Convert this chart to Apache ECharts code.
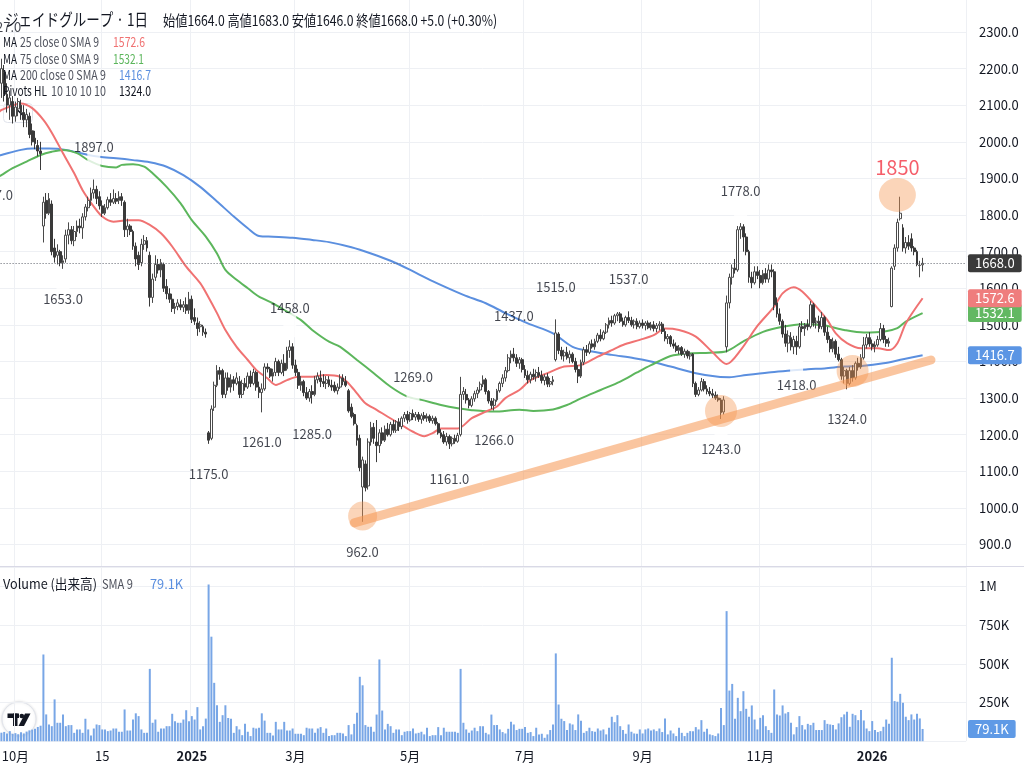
<!DOCTYPE html>
<html>
<head>
<meta charset="utf-8">
<title>ジェイドグループ 日足</title>
<script src="https://cdn.jsdelivr.net/npm/echarts@6/dist/echarts.min.js"></script>
<style>
  html, body { margin: 0; padding: 0; background: #ffffff; }
  #chart { width: 1024px; height: 780px; }
</style>
</head>
<body>
<div id="chart"></div>
<script>
const FONT = '"Noto Sans CJK JP", "Noto Sans", sans-serif';
const INK = '#131722';
const MUTED = '#50535e';

// Tokyo exchange closures inside the charted span
const HOLIDAYS = [
  '2024-09-23', '2024-10-14', '2024-11-04', '2024-12-31',
  '2025-01-01', '2025-01-02', '2025-01-03', '2025-01-13', '2025-02-11', '2025-02-24',
  '2025-03-20', '2025-04-29', '2025-05-05', '2025-05-06', '2025-07-21', '2025-08-11',
  '2025-09-15', '2025-09-23', '2025-10-13', '2025-11-03', '2025-11-24', '2025-12-31',
  '2026-01-01', '2026-01-02', '2026-01-12', '2026-02-11', '2026-02-23'
];
const FIRST_SESSION = '2024-09-18';
const PRE_SESSIONS = 3;     // sessions left of the first candle (off the edge)
const AHEAD_SESSIONS = 15;  // empty sessions right of the last candle

// Daily candles from 2024-09-24: [open, high, low, close]
const CANDLES = [
  [2160,2227,2120,2200],[2190,2210,2110,2130],[2130,2160,2080,2100],[2100,2140,2060,2120],[2110,2125,2050,2070],
  [2070,2110,2055,2095],[2090,2120,2070,2110],[2100,2115,2060,2080],[2080,2100,2040,2060],[2060,2090,2040,2075],
  [2070,2080,2010,2020],[2030,2050,1990,2000],[2010,2030,1980,1995],[1990,2005,1960,1975],[1975,2000,1923,1968],
  [1770,1850,1725,1835],[1840,1860,1790,1805],[1805,1860,1800,1845],[1830,1840,1690,1700],[1710,1735,1670,1685],
  [1690,1720,1665,1700],[1700,1705,1660,1670],[1670,1690,1653,1675],[1680,1760,1670,1745],[1745,1780,1720,1760],
  [1760,1770,1720,1730],[1730,1770,1715,1755],[1755,1785,1740,1770],[1770,1790,1750,1765],[1765,1805,1735,1795],
  [1795,1830,1785,1822],[1820,1850,1810,1840],[1840,1875,1825,1860],[1860,1897,1845,1870],[1870,1880,1830,1845],
  [1850,1865,1815,1825],[1825,1840,1795,1805],[1805,1830,1800,1820],[1820,1850,1815,1842],[1842,1860,1825,1835],
  [1835,1870,1830,1845],[1845,1860,1830,1838],[1840,1865,1830,1850],[1850,1860,1825,1840],[1835,1840,1740,1760],
  [1760,1790,1740,1770],[1770,1775,1745,1755],[1755,1760,1705,1715],[1715,1725,1660,1680],[1690,1700,1650,1665],
  [1670,1735,1660,1720],[1720,1745,1705,1730],[1730,1740,1700,1710],[1690,1700,1550,1575],[1575,1640,1560,1625],
  [1630,1690,1620,1665],[1665,1680,1640,1650],[1650,1680,1630,1670],[1665,1670,1590,1600],[1605,1625,1570,1585],
  [1585,1600,1560,1570],[1570,1585,1535,1545],[1545,1560,1530,1550],[1550,1570,1540,1560],[1555,1570,1540,1548],
  [1548,1565,1535,1555],[1555,1575,1530,1540],[1540,1590,1530,1570],[1570,1580,1505,1515],[1520,1545,1500,1510],
  [1505,1520,1470,1490],[1495,1510,1480,1500],[1495,1500,1470,1480],[1480,1490,1465,1475],[1205,1210,1175,1185],
  [1190,1280,1185,1270],[1275,1345,1265,1335],[1335,1390,1330,1375],[1375,1385,1350,1365],[1375,1380,1300,1310],
  [1310,1370,1300,1355],[1355,1370,1320,1330],[1330,1365,1315,1350],[1350,1360,1320,1340],[1340,1370,1335,1355],
  [1345,1360,1300,1310],[1310,1350,1300,1340],[1340,1355,1320,1330],[1330,1370,1325,1360],[1360,1375,1330,1340],
  [1340,1380,1335,1370],[1370,1375,1320,1330],[1330,1345,1300,1315],[1315,1340,1261,1325],[1325,1395,1320,1385],
  [1385,1395,1370,1380],[1380,1385,1355,1360],[1360,1380,1345,1370],[1370,1410,1360,1400],[1400,1405,1360,1370],
  [1370,1405,1365,1395],[1395,1420,1360,1375],[1380,1440,1375,1430],[1430,1458,1410,1440],[1440,1450,1380,1390],
  [1390,1405,1360,1370],[1370,1380,1325,1335],[1335,1360,1320,1345],[1345,1350,1305,1315],[1315,1330,1295,1300],
  [1300,1325,1290,1318],[1318,1335,1285,1310],[1310,1360,1305,1350],[1350,1370,1340,1360],[1355,1375,1330,1345],
  [1345,1365,1330,1340],[1340,1360,1325,1350],[1350,1360,1330,1335],[1335,1350,1320,1330],[1335,1345,1315,1320],
  [1320,1340,1310,1330],[1330,1365,1325,1355],[1355,1365,1335,1345],[1345,1360,1330,1335],[1320,1325,1260,1265],
  [1275,1285,1245,1250],[1255,1260,1225,1230],[1225,1230,1170,1185],[1190,1200,1100,1110],[1057,1140,962,1131],
  [1120,1130,1045,1055],[1060,1190,1050,1180],[1180,1235,1170,1220],[1220,1232,1175,1190],[1180,1240,1125,1170],
  [1170,1215,1150,1205],[1205,1220,1175,1185],[1185,1225,1180,1215],[1215,1232,1195,1200],[1200,1235,1195,1228],
  [1228,1240,1205,1212],[1212,1240,1205,1235],[1235,1245,1210,1222],[1222,1250,1215,1245],[1245,1262,1235,1255],
  [1255,1265,1230,1240],[1240,1262,1235,1258],[1258,1269,1240,1248],[1248,1262,1238,1255],[1255,1262,1235,1242],
  [1242,1258,1230,1252],[1252,1262,1238,1245],[1245,1258,1235,1250],[1250,1255,1232,1238],[1238,1252,1230,1245],
  [1245,1250,1225,1230],[1230,1235,1200,1205],[1205,1215,1190,1195],[1200,1210,1175,1180],[1180,1205,1170,1195],
  [1195,1200,1161,1175],[1175,1195,1168,1190],[1190,1200,1175,1182],[1182,1205,1178,1198],[1200,1358,1195,1310],
  [1310,1330,1295,1318],[1310,1325,1285,1295],[1295,1300,1272,1280],[1280,1305,1275,1298],[1298,1320,1290,1312],
  [1312,1330,1300,1322],[1322,1345,1315,1338],[1338,1362,1330,1350],[1350,1355,1310,1318],[1318,1322,1285,1292],
  [1292,1300,1270,1280],[1280,1300,1266,1295],[1295,1325,1290,1320],[1320,1345,1315,1340],[1340,1365,1330,1355],
  [1355,1385,1345,1375],[1375,1420,1370,1410],[1410,1430,1395,1420],[1420,1437,1400,1410],[1410,1420,1385,1395],
  [1395,1412,1380,1405],[1405,1410,1370,1378],[1378,1390,1355,1362],[1362,1375,1340,1350],[1350,1372,1340,1365],
  [1365,1380,1350,1358],[1358,1378,1345,1370],[1370,1385,1355,1362],[1362,1375,1340,1348],[1348,1365,1335,1358],
  [1358,1368,1330,1338],[1338,1355,1330,1345],[1345,1360,1335,1350],[1405,1515,1400,1478],[1475,1480,1420,1430],
  [1430,1440,1405,1415],[1415,1432,1400,1425],[1425,1440,1405,1410],[1410,1430,1395,1420],[1420,1425,1395,1400],
  [1400,1410,1370,1378],[1378,1390,1341,1360],[1360,1405,1355,1398],[1398,1440,1390,1432],[1432,1445,1415,1425],
  [1425,1455,1420,1448],[1448,1460,1435,1440],[1440,1462,1432,1455],[1455,1478,1450,1472],[1472,1488,1455,1462],
  [1462,1485,1458,1480],[1480,1505,1475,1500],[1500,1520,1490,1512],[1512,1525,1495,1505],[1505,1530,1500,1525],
  [1525,1535,1510,1530],[1530,1535,1505,1510],[1510,1520,1495,1500],[1500,1525,1495,1520],[1520,1537,1505,1512],
  [1512,1522,1495,1500],[1500,1515,1490,1510],[1510,1518,1488,1495],[1495,1512,1490,1505],[1505,1515,1490,1498],
  [1498,1510,1485,1505],[1505,1512,1488,1492],[1492,1508,1485,1500],[1500,1510,1482,1490],[1490,1505,1480,1498],
  [1498,1510,1485,1502],[1502,1508,1475,1482],[1482,1490,1455,1462],[1462,1475,1448,1468],[1468,1472,1440,1448],
  [1448,1460,1435,1442],[1442,1452,1425,1430],[1430,1445,1420,1438],[1438,1442,1415,1420],[1420,1435,1410,1428],
  [1428,1432,1408,1415],[1415,1428,1405,1420],[1420,1423,1330,1340],[1340,1345,1303,1310],[1310,1330,1305,1322],
  [1322,1355,1318,1345],[1345,1352,1318,1325],[1325,1335,1310,1318],[1318,1330,1305,1312],[1312,1325,1300,1308],
  [1308,1318,1295,1300],[1300,1310,1290,1295],[1295,1300,1243,1260],[1262,1305,1255,1295],[1440,1580,1425,1560],
  [1560,1640,1545,1630],[1630,1665,1610,1655],[1655,1680,1640,1650],[1650,1770,1645,1760],[1760,1778,1735,1768],
  [1768,1775,1700,1740],[1740,1750,1690,1700],[1700,1705,1615,1630],[1630,1645,1600,1615],[1615,1660,1610,1645],
  [1645,1660,1625,1635],[1635,1650,1600,1615],[1615,1650,1610,1640],[1640,1655,1615,1625],[1625,1665,1615,1650],
  [1650,1665,1630,1645],[1645,1652,1540,1555],[1560,1575,1520,1530],[1530,1545,1500,1510],[1510,1515,1465,1475],
  [1475,1500,1440,1450],[1450,1485,1425,1470],[1465,1480,1430,1440],[1440,1470,1420,1460],[1455,1470,1418,1440],
  [1440,1505,1435,1495],[1495,1510,1480,1490],[1490,1505,1470,1500],[1500,1515,1485,1495],[1495,1565,1490,1555],
  [1555,1560,1495,1505],[1505,1520,1490,1510],[1510,1525,1480,1490],[1495,1535,1488,1520],[1520,1525,1470,1480],
  [1480,1495,1450,1460],[1460,1470,1425,1435],[1435,1465,1425,1455],[1455,1460,1410,1420],[1420,1440,1400,1405],
  [1405,1410,1350,1360],[1360,1385,1340,1375],[1375,1380,1324,1340],[1340,1385,1335,1375],[1375,1390,1345,1355],
  [1355,1400,1350,1395],[1395,1410,1375,1385],[1385,1420,1380,1410],[1410,1467,1405,1445],[1445,1475,1435,1465],
  [1465,1480,1440,1448],[1448,1460,1430,1440],[1440,1455,1425,1445],[1445,1470,1440,1460],[1460,1505,1455,1490],
  [1490,1500,1450,1460],[1460,1470,1440,1450],[1450,1465,1440,1455],[1550,1660,1548,1655],[1660,1720,1650,1710],
  [1710,1790,1700,1780],[1790,1850,1785,1805],[1765,1775,1700,1710],[1710,1740,1695,1725],[1725,1745,1705,1715],
  [1735,1750,1700,1710],[1710,1715,1690,1700],[1700,1705,1660,1665],[1662,1675,1630,1663],[1664,1683,1646,1668]
];

// Daily volume, thousands of shares
const VOLUME_K = [
  55,60,50,65,48,52,45,58,50,62,70,75,80,92,100,
  560,173,108,97,270,119,119,173,97,104,104,54,76,76,54,
  145,76,37,82,108,104,76,76,65,69,82,82,61,61,205,
  69,69,140,180,162,76,54,54,467,119,140,61,82,82,97,
  97,177,129,119,119,140,200,129,162,140,220,76,97,146,1012,
  675,377,232,125,168,232,150,145,54,97,76,39,112,61,33,
  87,82,87,180,133,54,54,37,125,76,76,125,69,69,82,
  48,48,48,39,87,82,82,54,82,91,54,82,33,39,39,
  54,54,50,33,104,44,112,183,416,361,104,93,93,61,172,
  528,198,76,112,97,54,76,76,39,61,65,65,82,50,54,
  61,44,87,33,39,39,91,39,87,61,61,61,61,54,467,
  119,76,54,69,87,65,97,97,54,44,172,104,104,76,59,
  50,80,125,108,72,80,80,91,54,59,33,87,44,48,22,
  44,72,108,567,237,145,130,72,115,108,72,173,132,54,65,
  87,65,61,82,69,76,44,87,158,123,168,97,72,48,108,
  61,50,48,76,50,76,82,69,76,65,82,59,147,44,69,
  50,33,87,54,33,54,65,65,91,76,136,61,80,44,39,
  33,50,215,104,840,327,370,145,280,194,323,209,158,231,140,
  76,151,168,97,72,54,334,173,166,231,179,188,119,44,91,
  162,104,76,112,104,119,72,72,72,136,112,108,104,76,115,
  155,173,190,93,177,168,136,201,134,82,65,130,72,59,65,
  93,140,112,539,259,255,306,248,158,136,173,140,177,147,79.1
];

// Moving averages as [bar number, value]; bar 0 is the first candle
const MA25 = [
  [-1,2080],[0,2087],[7,2105],[11,2092],[15,2060],[18,2025],[22,1969],[26,1914],[29,1868],[33,1823],
  [36,1796],[40,1782],[45,1786],[49,1786],[53,1773],[57,1750],[61,1714],[66,1659],[71,1614],[74,1575],
  [77,1532],[80,1486],[84,1440],[88,1404],[91,1377],[95,1354],[98,1336],[102,1349],[106,1358],[110,1358],
  [116,1363],[121,1358],[124,1340],[127,1313],[130,1286],[134,1268],[138,1249],[142,1231],[147,1208],[151,1196],
  [154,1204],[157,1217],[163,1217],[168,1245],[173,1263],[177,1277],[180,1300],[185,1322],[189,1349],[195,1368],
  [201,1386],[207,1390],[213,1413],[218,1431],[222,1445],[228,1459],[233,1472],[237,1490],[242,1486],[248,1468],
  [254,1425],[259,1393],[264,1431],[270,1497],[276,1550],[279,1586],[283,1603],[286,1591],[291,1550],[295,1513],
  [298,1477],[302,1450],[307,1436],[313,1436],[317,1431],[320,1450],[323,1504],[329,1572.6]
];
const MA75 = [
  [-1,1905],[0,1909],[4,1928],[9,1946],[14,1964],[18,1973],[22,1978],[27,1969],[31,1950],[36,1934],
  [41,1930],[43,1937],[47,1939],[51,1932],[54,1914],[59,1877],[64,1832],[68,1786],[73,1741],[77,1695],
  [80,1650],[84,1623],[88,1600],[92,1577],[97,1559],[102,1536],[107,1513],[111,1486],[117,1454],[121,1440],
  [127,1404],[133,1368],[139,1331],[145,1304],[150,1295],[157,1281],[163,1272],[168,1267],[176,1263],[185,1268],
  [190,1265],[197,1269],[202,1281],[207,1299],[214,1322],[221,1345],[227,1370],[232,1390],[239,1415],[245,1422],
  [253,1424],[259,1428],[265,1455],[272,1481],[279,1495],[286,1502],[294,1498],[301,1486],[308,1479],[315,1481],
  [320,1491],[323,1509],[329,1532.1]
];
const MA200 = [
  [-1,1962],[0,1964],[7,1978],[11,1982],[17,1982],[23,1978],[31,1964],[35,1959],[41,1955],[47,1950],
  [53,1944],[59,1932],[65,1909],[71,1877],[77,1837],[83,1796],[88,1764],[92,1743],[97,1741],[104,1738],
  [111,1732],[117,1726],[125,1712],[132,1695],[139,1675],[146,1650],[153,1623],[165,1582],[173,1559],[180,1532],
  [188,1504],[197,1477],[204,1440],[211,1427],[218,1418],[226,1409],[232,1400],[239,1386],[248,1368],[256,1358],
  [260,1357],[266,1363],[274,1370],[282,1375],[288,1379],[294,1381],[301,1386],[308,1388],[315,1395],[322,1406],
  [329,1416.7]
];

// Pivot points (HL 10/10) as [bar number, price]
const PIVOT_HIGHS = [[0,2227],[33,1897],[103,1458],[147,1269],[183,1437],[198,1515],[224,1537],[264,1778]];
const PIVOT_LOWS = [[-3,1937],[22,1653],[74,1175],[93,1261],[111,1285],[129,962],[160,1161],[176,1266],[257,1243],[284,1418],[302,1324]];

// Time-axis labels: [session date, label]
const TIME_TICKS = [
  ['2024-10-01','10月'],['2024-11-15','15'],['2025-01-06','2025'],['2025-03-03','3月'],['2025-05-01','5月'],
  ['2025-07-01','7月'],['2025-09-01','9月'],['2025-11-04','11月'],['2026-01-05','2026']
];

// Drawn annotations: support trend line, highlighted bars, note over the latest high
const TREND_LINE = [[126,959],[332,1404]];
const HIGHLIGHTS = [[129,978],[257,1265],[304,1374],[320,1855]];
const HIGHLIGHT_SIZES = [29, 32, 32, [37, 34]];
const NOTE_AT = [320, 1929];
const NOTE_BAR = 321;

// ---------------------------------------------------------------
function sessionDates(first, count) {
  const off = new Set(HOLIDAYS);
  const out = [];
  const d = new Date(first + 'T00:00:00Z');
  while (out.length < count) {
    const wd = d.getUTCDay();
    const s = d.toISOString().slice(0, 10);
    if (wd !== 0 && wd !== 6 && !off.has(s)) out.push(s);
    d.setUTCDate(d.getUTCDate() + 1);
  }
  return out;
}

const cats = sessionDates(FIRST_SESSION, PRE_SESSIONS + CANDLES.length + AHEAD_SESSIONS);
const at = i => PRE_SESSIONS + i;
const tickLabel = new Map(TIME_TICKS);
const onTick = (idx, val) => tickLabel.has(val);

const BAR_PX = 2.8;
const GRID_LEFT = -PRE_SESSIONS * BAR_PX;
const GRID_W = cats.length * BAR_PX;

const pad = n => Array(n).fill('-');
const candleData = pad(PRE_SESSIONS).concat(CANDLES.map(([o, h, l, c]) => [o, c, l, h]));
const volumeData = pad(PRE_SESSIONS).concat(VOLUME_K.map(v => Math.round(v * 1000)));
const toPts = arr => arr.map(([i, v]) => [at(i), v]);

const last = CANDLES[CANDLES.length - 1];
const prevClose = CANDLES[CANDLES.length - 2][3];
const chg = last[3] - prevClose;
const chgPct = chg / prevClose * 100;
const sign = v => (v >= 0 ? '+' : '');
const lastOf = a => a[a.length - 1][1];
const fmtK = v => (v / 1000).toFixed(1) + 'K';
const lastVol = volumeData[volumeData.length - 1];

const RED = '#f07272', GREEN = '#5cb65c', BLUE = '#5b8fdf';
const CANDLE_DARK = '#3a3a3a', CANDLE_EDGE = '#4a4a4a';
const HILITE = 'rgba(245,150,80,0.5)';

function badge(bg, text) {
  return {
    show: true, position: 'end', distance: 2, formatter: text,
    backgroundColor: bg, color: '#ffffff', fontFamily: FONT, fontSize: 13, lineHeight: 15,
    padding: [2, 7, 1, 7], borderRadius: 2
  };
}
function tag(value, bg, text) {
  return {
    symbol: ['none', 'none'], silent: true, animation: false,
    lineStyle: { color: 'rgba(0,0,0,0)', width: 0 },
    label: badge(bg, text),
    data: [{ yAxis: value }]
  };
}

// Header and legend text: each run is squeezed into its slot so the condensed UI face is kept
const measureCtx = document.createElement('canvas').getContext('2d');
function textRun(text, x0, x1, yMid, size, color) {
  const font = `${size}px ${FONT}`;
  measureCtx.font = font;
  const w = measureCtx.measureText(text).width || 1;
  return {
    type: 'text', silent: true, z: 20, x: x0, y: yMid, scaleX: (x1 - x0) / w, originX: 0, originY: 0,
    style: { text, font, fill: color, align: 'left', verticalAlign: 'middle' }
  };
}

const ohlcText =
  `始値${last[0].toFixed(1)} 高値${last[1].toFixed(1)} 安値${last[2].toFixed(1)} ` +
  `終値${last[3].toFixed(1)} ${sign(chg)}${chg.toFixed(1)} (${sign(chg)}${chgPct.toFixed(2)}%)`;

const headerRuns = [
  textRun('ジェイドグループ · 1日', 5, 148, 20, 17, INK),
  textRun(ohlcText, 163, 497, 20.5, 15, INK),
  textRun('MA', 3, 17, 42, 13.5, INK),
  textRun('25 close 0 SMA 9', 20, 99, 42, 13.5, MUTED),
  textRun(lastOf(MA25).toFixed(1), 113, 145, 42, 13.5, RED),
  textRun('MA', 3, 17, 58.5, 13.5, INK),
  textRun('75 close 0 SMA 9', 20, 99, 58.5, 13.5, MUTED),
  textRun(lastOf(MA75).toFixed(1), 113, 144, 58.5, 13.5, GREEN),
  textRun('MA', 3, 17, 75, 13.5, INK),
  textRun('200 close 0 SMA 9', 20, 106, 75, 13.5, MUTED),
  textRun(lastOf(MA200).toFixed(1), 119, 151, 75, 13.5, BLUE),
  textRun('Pivots HL', 3, 47, 91, 13.5, INK),
  textRun('10 10 10 10', 51, 106, 91, 13.5, MUTED),
  textRun(PIVOT_LOWS[PIVOT_LOWS.length - 1][1].toFixed(1), 119, 151, 91, 13.5, INK),
  textRun('Volume (出来高)', 3, 97, 583.5, 13.5, INK),
  textRun('SMA 9', 102, 133, 583.5, 13.5, MUTED),
  textRun(fmtK(lastVol), 150, 183, 583.5, 13.5, BLUE)
];

const chart = echarts.init(document.getElementById('chart'), null, { renderer: 'canvas' });

const option = {
  animation: false,
  backgroundColor: '#ffffff',
  textStyle: { fontFamily: FONT },
  grid: [
    { left: GRID_LEFT, top: 0, width: GRID_W, height: 566, outerBoundsMode: 'none', containLabel: false },
    { left: GRID_LEFT, top: 32, width: GRID_W, height: 512.5, outerBoundsMode: 'none', containLabel: false },
    { left: GRID_LEFT, top: 567, width: GRID_W, height: 174.2, outerBoundsMode: 'none', containLabel: false }
  ],
  xAxis: [0, 1, 2].map(g => ({
    type: 'category', gridIndex: g, data: cats, boundaryGap: true,
    axisLine: { show: false }, axisTick: { show: false },
    axisLabel: g === 2 ? {
      show: true, interval: onTick, margin: 8, color: INK, fontSize: 13, fontFamily: FONT,
      formatter: v => { const t = tickLabel.get(v) || ''; return /^\d{4}$/.test(t) ? `{y|${t}}` : t; },
      rich: { y: { fontWeight: 'bold', fontSize: 13, color: INK, fontFamily: FONT } }
    } : { show: false },
    splitLine: g === 1 ? { show: false } : { show: true, interval: onTick, lineStyle: { color: '#eef0f4', width: 1 } }
  })),
  yAxis: [
    { type: 'value', gridIndex: 0, show: false, min: 0, max: 1, splitLine: { show: false } },
    {
      type: 'value', gridIndex: 1, position: 'right', min: 900, max: 2300, interval: 100,
      axisLine: { show: false }, axisTick: { show: false },
      axisLabel: { formatter: v => v.toFixed(1), color: INK, fontSize: 13, margin: 13, fontFamily: FONT },
      splitLine: { lineStyle: { color: '#eef0f4', width: 1 } }
    },
    {
      type: 'value', gridIndex: 2, position: 'right', min: 0, max: 1125000, interval: 250000,
      axisLine: { show: false }, axisTick: { show: false },
      axisLabel: {
        showMinLabel: false, showMaxLabel: false, color: INK, fontSize: 13, margin: 13, fontFamily: FONT,
        formatter: v => v >= 1e6 ? (v / 1e6) + 'M' : (v / 1e3) + 'K'
      },
      splitLine: { lineStyle: { color: '#eef0f4', width: 1 } }
    }
  ],
  series: [
    {
      name: 'Volume', type: 'bar', xAxisIndex: 2, yAxisIndex: 2, data: volumeData,
      barWidth: 2, itemStyle: { color: '#78a6e6' }, clip: false, silent: true, z: 2,
      markLine: tag(lastVol, '#5f9ae6', fmtK(lastVol))
    },
    {
      name: 'MA 200', type: 'line', xAxisIndex: 1, yAxisIndex: 1, data: toPts(MA200),
      smooth: 0.3, symbol: 'none', lineStyle: { color: BLUE, width: 2 }, clip: false, silent: true, z: 2,
      markLine: tag(lastOf(MA200), '#5b95e4', lastOf(MA200).toFixed(1))
    },
    {
      name: 'MA 75', type: 'line', xAxisIndex: 1, yAxisIndex: 1, data: toPts(MA75),
      smooth: 0.3, symbol: 'none', lineStyle: { color: GREEN, width: 2 }, clip: false, silent: true, z: 2,
      markLine: tag(lastOf(MA75), '#62b862', lastOf(MA75).toFixed(1))
    },
    {
      name: 'MA 25', type: 'line', xAxisIndex: 1, yAxisIndex: 1, data: toPts(MA25),
      smooth: 0.3, symbol: 'none', lineStyle: { color: RED, width: 2 }, clip: false, silent: true, z: 2,
      markLine: tag(lastOf(MA25), '#ef7d7d', lastOf(MA25).toFixed(1))
    },
    // white callouts joining each pivot label to its bar
    {
      type: 'scatter', xAxisIndex: 1, yAxisIndex: 1, data: toPts(PIVOT_HIGHS), silent: true, z: 3,
      symbol: 'rect', symbolSize: [13, 24], symbolOffset: [0, -15], itemStyle: { color: '#ffffff' }
    },
    {
      type: 'scatter', xAxisIndex: 1, yAxisIndex: 1, data: toPts(PIVOT_LOWS), silent: true, z: 3,
      symbol: 'rect', symbolSize: [13, 24], symbolOffset: [0, 15], itemStyle: { color: '#ffffff' }
    },
    {
      name: 'ジェイドグループ', type: 'candlestick', xAxisIndex: 1, yAxisIndex: 1, data: candleData,
      barWidth: 2.4, clip: false, silent: true, z: 4,
      itemStyle: { color: '#ffffff', color0: CANDLE_DARK, borderColor: CANDLE_EDGE, borderColor0: CANDLE_DARK, borderWidth: 1 },
      markLine: {
        symbol: ['none', 'none'], silent: true, animation: false,
        lineStyle: { color: '#5d606b', type: [1, 2], width: 1 },
        label: badge('#3a3a3a', last[3].toFixed(1)),
        data: [{ yAxis: last[3] }]
      }
    },
    {
      type: 'scatter', xAxisIndex: 1, yAxisIndex: 1, data: toPts(PIVOT_HIGHS), silent: true, z: 5,
      symbolSize: 1, itemStyle: { color: 'rgba(0,0,0,0)' },
      label: { show: true, position: 'top', distance: 25, color: INK, fontSize: 13, fontFamily: FONT,
        formatter: p => p.value[1].toFixed(1) }
    },
    {
      type: 'scatter', xAxisIndex: 1, yAxisIndex: 1, data: toPts(PIVOT_LOWS), silent: true, z: 5,
      symbolSize: 1, itemStyle: { color: 'rgba(0,0,0,0)' },
      label: { show: true, position: 'bottom', distance: 23, color: INK, fontSize: 13, fontFamily: FONT,
        formatter: p => p.value[1].toFixed(1) }
    },
    {
      type: 'line', xAxisIndex: 1, yAxisIndex: 1, data: toPts(TREND_LINE), silent: true, z: 6,
      symbol: 'none', clip: false, lineStyle: { color: 'rgba(245,150,80,0.55)', width: 9, cap: 'round' }
    },
    {
      type: 'scatter', xAxisIndex: 1, yAxisIndex: 1, data: toPts(HIGHLIGHTS), silent: true, z: 6,
      symbol: 'circle', symbolSize: (v, p) => HIGHLIGHT_SIZES[p.dataIndex], itemStyle: { color: HILITE }
    },
    {
      type: 'scatter', xAxisIndex: 1, yAxisIndex: 1, data: [[at(NOTE_AT[0]), NOTE_AT[1]]], silent: true, z: 7,
      symbolSize: 1, itemStyle: { color: 'rgba(0,0,0,0)' },
      label: { show: true, position: 'inside', color: '#f23645', fontSize: 20, fontFamily: FONT,
        formatter: () => String(CANDLES[NOTE_BAR][1]) }
    }
  ],
  graphic: [
    { type: 'line', silent: true, z: 10, shape: { x1: 0, y1: 566.5, x2: 1024, y2: 566.5 },
      style: { stroke: '#d9d9e6', lineWidth: 1 } },
    { type: 'group', silent: true, z: 10, children: [
      { type: 'rect', shape: { x: 3.5, y: 103.5, width: 29, height: 19, r: 4 },
        style: { fill: 'rgba(255,255,255,0.85)', stroke: '#e0e3eb', lineWidth: 1 } },
      { type: 'polyline', shape: { points: [[13, 115.5], [18, 110.5], [23, 115.5]] },
        style: { stroke: INK, lineWidth: 1.5, fill: null } }
    ] },
    { type: 'group', silent: true, z: 10, children: [
      { type: 'circle', shape: { cx: 19, cy: 719, r: 17 },
        style: { fill: '#ffffff', stroke: '#e0e3eb', lineWidth: 1, shadowBlur: 3, shadowColor: 'rgba(0,0,0,0.12)' } },
      { type: 'rect', shape: { x: 7.5, y: 713.5, width: 11.5, height: 4.5 }, style: { fill: INK } },
      { type: 'rect', shape: { x: 13, y: 713.5, width: 4.5, height: 12.5 }, style: { fill: INK } },
      { type: 'circle', shape: { cx: 21.8, cy: 716, r: 2.3 }, style: { fill: INK } },
      { type: 'polygon', shape: { points: [[25, 713.5], [30.5, 713.5], [24, 726], [18.5, 726]] }, style: { fill: INK } }
    ] },
    ...headerRuns
  ]
};

chart.setOption(option);
</script>
</body>
</html>
